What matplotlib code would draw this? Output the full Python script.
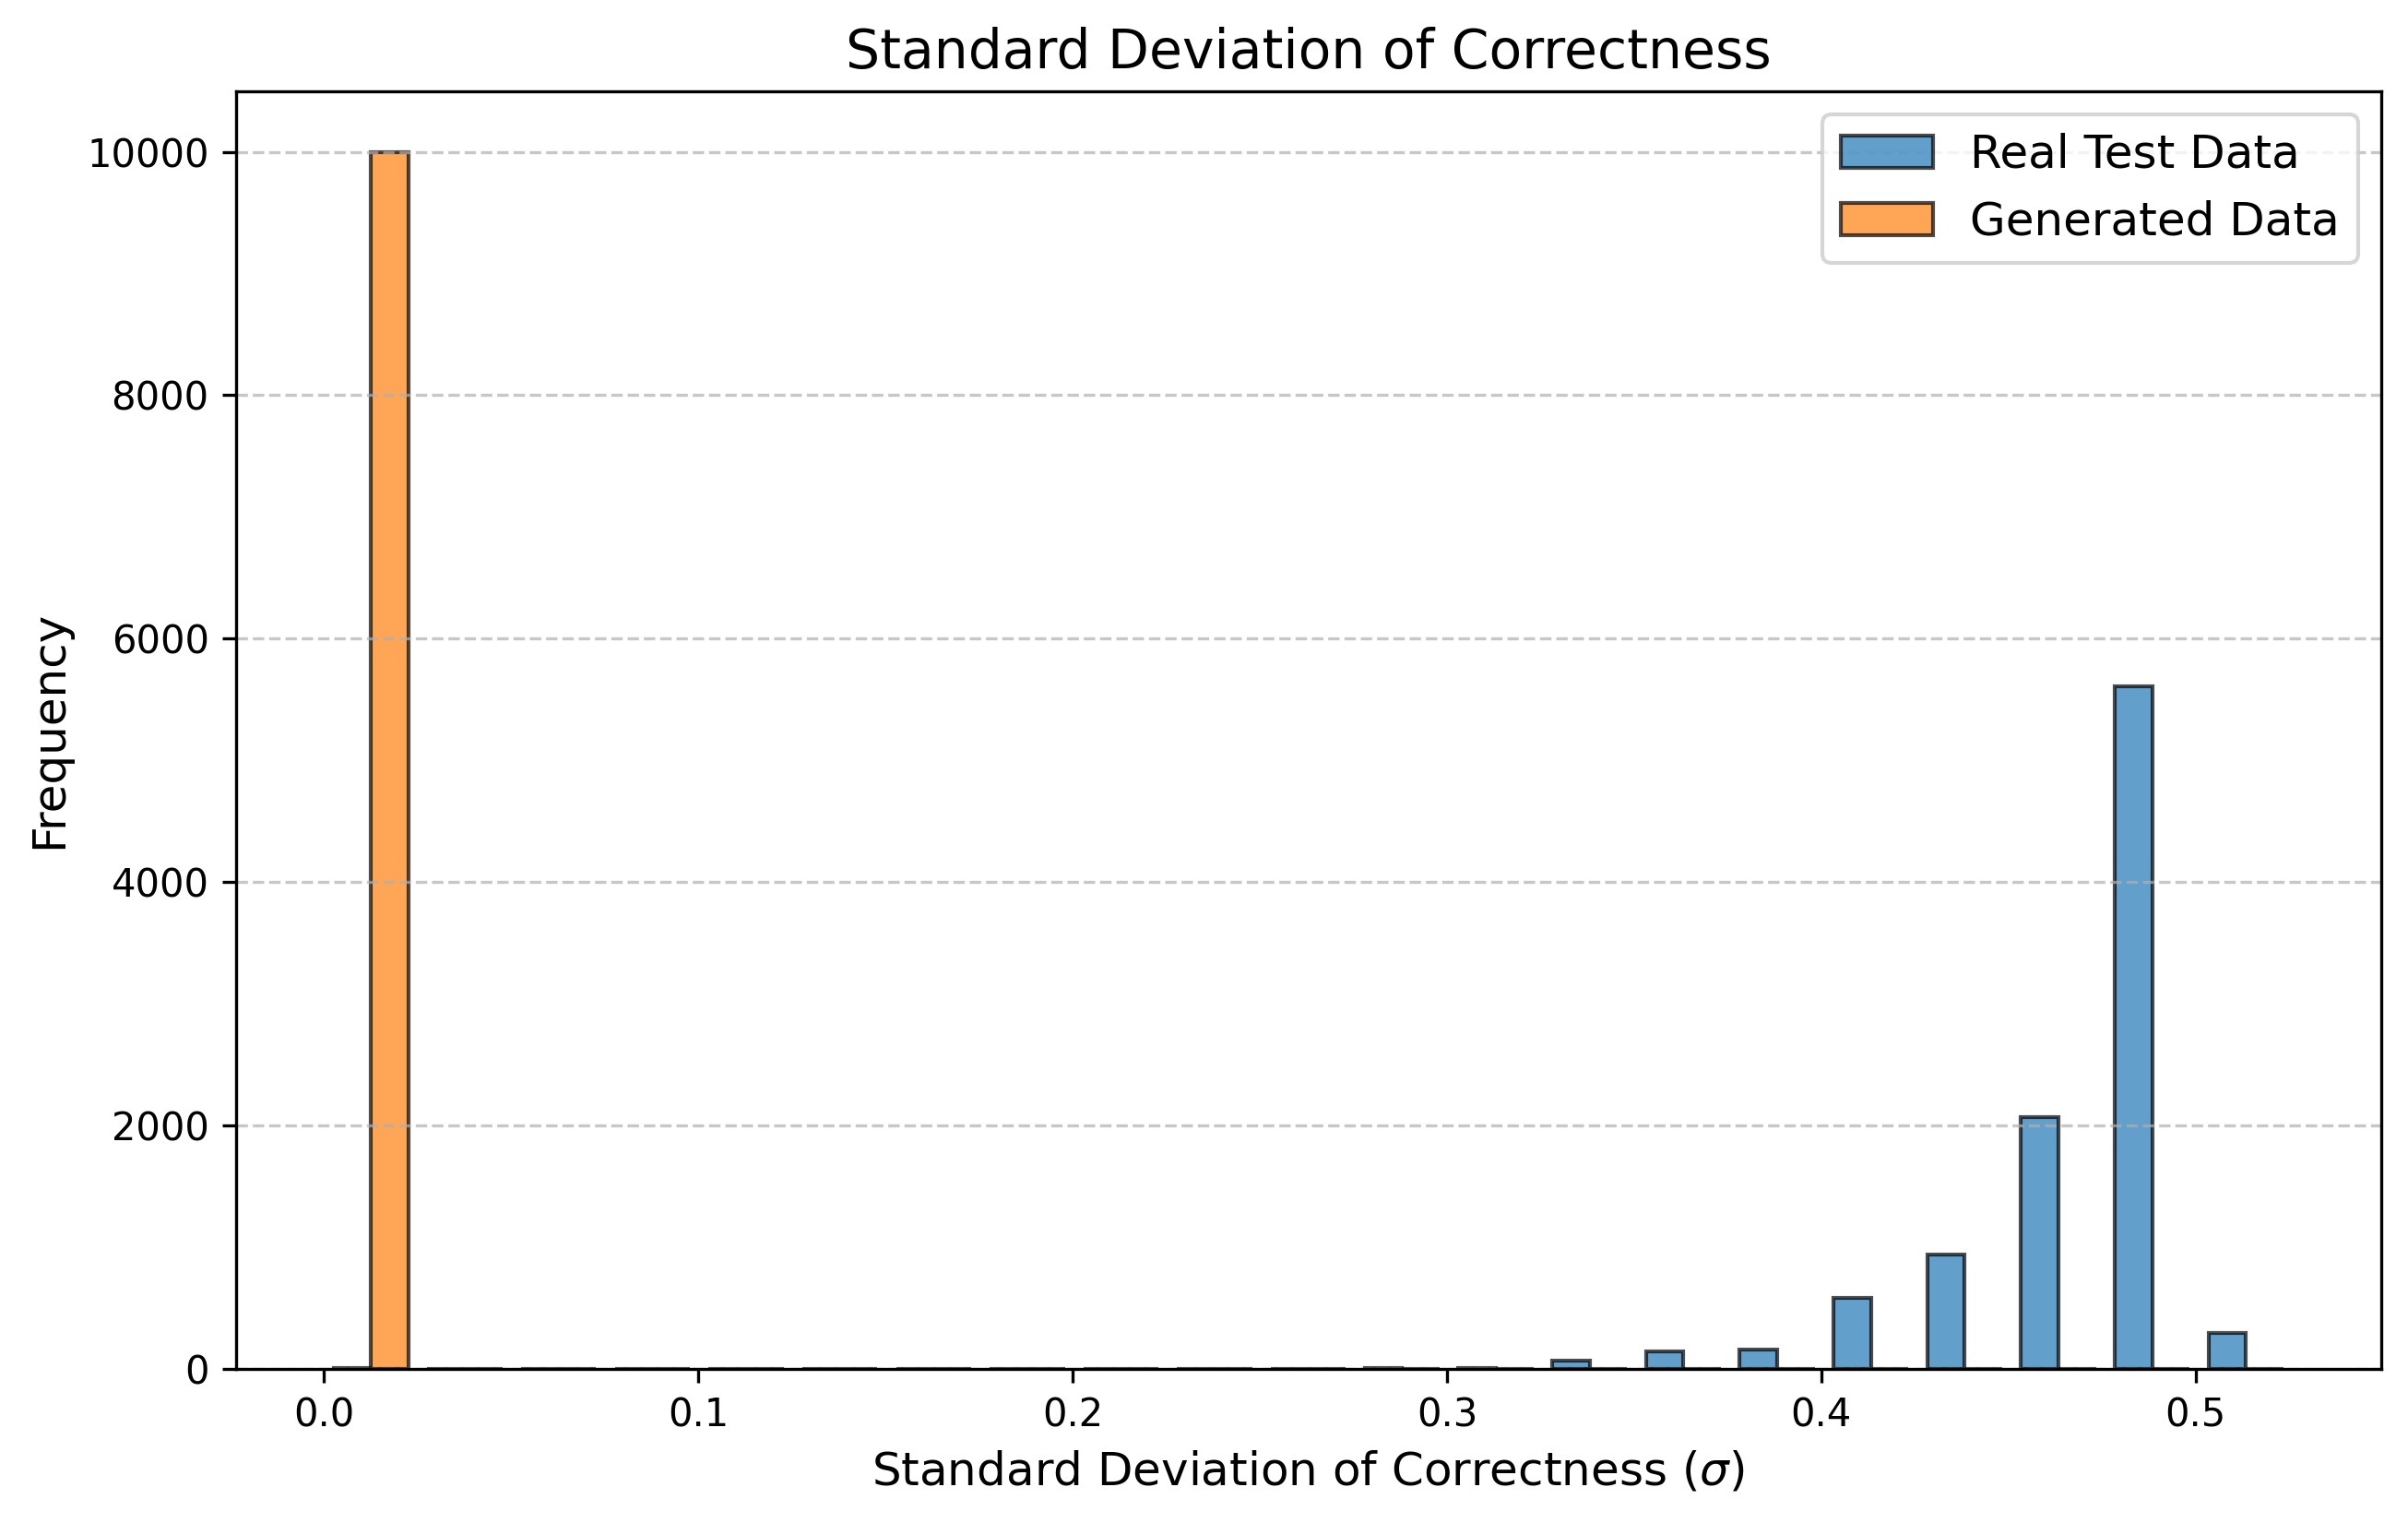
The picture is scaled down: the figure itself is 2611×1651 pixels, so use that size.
import numpy as np
import matplotlib
matplotlib.use('Agg')
import matplotlib.pyplot as plt

# bin edges of the histogram (sigma of correctness)
N_BINS = 21
SIGMA_MAX = 0.526

# counts per bin
real_counts = [5, 0, 0, 0, 0, 0, 0, 0, 0, 3, 4, 10, 12,
               70, 145, 160, 587, 938, 2073, 5612, 297]
gen_counts = [10000] + [0] * 20

labels = ['Real Test Data', 'Generated Data']

bins = np.linspace(0, SIGMA_MAX, N_BINS + 1)
centers = 0.5 * (bins[:-1] + bins[1:])

fig, ax = plt.subplots(figsize=(2611 / 300, 1651 / 300), dpi=300)
fig.subplots_adjust(left=0.098, right=0.9888, top=0.9403, bottom=0.1011)

ax.hist([centers, centers], bins=bins, weights=[real_counts, gen_counts],
        alpha=0.7, edgecolor='black', linewidth=1.0, label=labels)

ax.set_title('Standard Deviation of Correctness', fontsize=14)
ax.set_xlabel(r'Standard Deviation of Correctness ($\sigma$)', fontsize=12)
ax.set_ylabel('Frequency', fontsize=12)
ax.legend(fontsize=12)
ax.grid(axis='y', linestyle='--', alpha=0.7)

fig.savefig('out.png', dpi=300)
